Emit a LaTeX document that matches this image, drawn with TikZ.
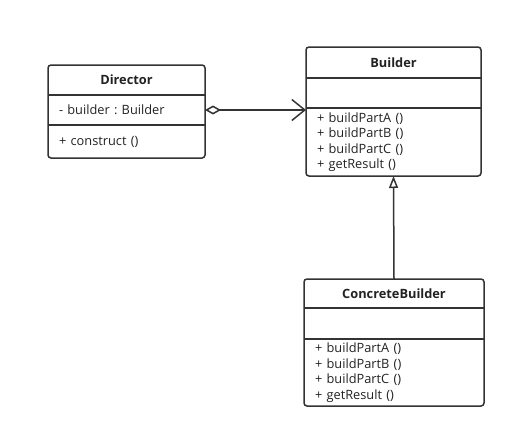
\documentclass[tikz,border=0pt]{standalone}
\usepackage{fontspec}
\setmainfont{Open Sans}
\usetikzlibrary{positioning,arrows.meta}
\definecolor{umlline}{HTML}{333333}
\definecolor{umltext}{HTML}{222222}
\frenchspacing

\tikzset{
  part/.style={inner sep=0pt, outer sep=0pt, text=umltext,
    font=\fontsize{12.8}{15.5}\selectfont},
  head/.style={part, font=\fontsize{12.8}{15.5}\selectfont\bfseries},
  body/.style={part, align=left, inner xsep=11pt, text width=#1},
  frame/.style={draw=umlline, line width=1.5pt, rounded corners=3pt},
  agg/.style={draw=umlline, line width=1.5pt,
    {Diamond[open,length=16pt,width=9pt]}-{Straight Barb[length=13pt,width=21pt]}},
  gen/.style={draw=umlline, line width=1.5pt, -{Triangle[open,length=12pt,width=9pt]}}
}

\begin{document}
\begin{tikzpicture}[x=1pt,y=-1pt]
  \useasboundingbox (0,0) rectangle (516,439);

  % Director
  \node (dir) [head, minimum width=157pt, minimum height=30pt] at (126.5,80) {Director};
  \node (dirattr) [body=135pt, minimum height=30pt, below = 0pt of dir] {- builder : Builder};
  \node (dirmeth) [body=135pt, minimum height=33pt, below = 0pt of dirattr] {+ construct ()};

  % Builder
  \node (bld) [head, minimum width=175pt, minimum height=31pt] at (393.5,62.5) {Builder};
  \node (bldattr) [body=153pt, minimum height=30pt, below = 0pt of bld] {};
  \node (bldmeth) [body=153pt, minimum height=68pt, below = 0pt of bldattr]
    {+ buildPartA ()\\+ buildPartB ()\\+ buildPartC ()\\+ getResult ()};

  % ConcreteBuilder
  \node (cbld) [head, minimum width=180pt, minimum height=29pt] at (394,293.5) {ConcreteBuilder};
  \node (cbldattr) [body=158pt, minimum height=31pt, below = 0pt of cbld] {};
  \node (cbldmeth) [body=158pt, minimum height=67pt, below = 0pt of cbldattr]
    {+ buildPartA ()\\+ buildPartB ()\\+ buildPartC ()\\+ getResult ()};

  \foreach \x in {dir,bld,cbld} {
    \draw[frame] (\x.north west) rectangle (\x meth.south east);
    \draw[umlline, line width=1.5pt]
      (\x.south west) -- (\x.south east)
      (\x attr.south west) -- (\x attr.south east);
  }

  \path
    (dirattr.east) edge[agg] (dirattr.east -| bldmeth.west)
    (cbld.north) edge[gen] (bldmeth.south);
\end{tikzpicture}
\end{document}
